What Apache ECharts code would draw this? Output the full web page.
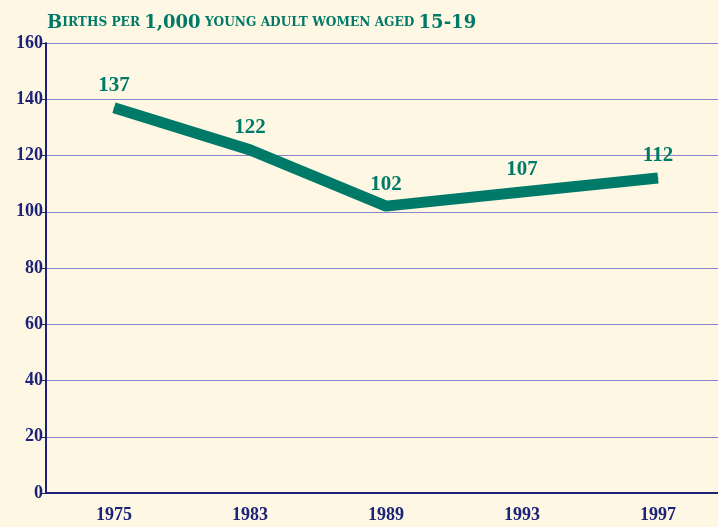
<!DOCTYPE html>
<html>
<head>
<meta charset="utf-8">
<script src="https://cdn.jsdelivr.net/npm/echarts@6/dist/echarts.min.js"></script>
<style>
  html, body { margin: 0; padding: 0; background: #fdf7e3; overflow: hidden; }
  /* a little wider than the window so the last band runs past the right edge */
  #chart { width: 726px; height: 527px; }
</style>
</head>
<body>
<div id="chart"></div>
<script>
const years = ["1975", "1983", "1989", "1993", "1997"];
const births = [137, 122, 102, 107, 112];

const navy = "#1b2278";
const green = "#007a68";
const serif = "'Liberation Serif', 'DejaVu Serif', serif";

const chart = echarts.init(document.querySelector("#chart"));
chart.setOption({
    backgroundColor: "#fdf7e3",
    animation: false,
    title: {
        left: 42,
        top: 9,
        text: "{b|B}{s|IRTHS PER }{b|1,000}{s| YOUNG ADULT WOMEN AGED }{b|15-19}",
        textStyle: {
            rich: {
                b: { fontFamily: "'DejaVu Serif'", fontWeight: "bold", fontSize: 18, color: green },
                s: { fontFamily: "'DejaVu Serif'", fontWeight: "bold", fontSize: 12.2, color: green }
            }
        }
    },
    grid: { left: 46, top: 43, right: 0, bottom: 34, containLabel: false },
    xAxis: {
        type: "category",
        data: years,
        boundaryGap: true,
        axisLine: { lineStyle: { color: navy, width: 2 } },
        axisTick: { alignWithLabel: true, length: 8, lineStyle: { color: navy, width: 2 } },
        axisLabel: { color: navy, fontFamily: serif, fontWeight: "bold", fontSize: 18, margin: 13 },
        splitLine: { show: false }
    },
    yAxis: {
        type: "value",
        min: 0,
        max: 160,
        interval: 20,
        axisLine: { show: true, lineStyle: { color: navy, width: 2 } },
        axisTick: { show: true, length: 5, lineStyle: { color: navy, width: 1 } },
        axisLabel: { color: navy, fontFamily: serif, fontWeight: "bold", fontSize: 18, margin: 3 },
        splitLine: { lineStyle: { color: "#8a84c8", width: 1 } }
    },
    series: [{
        type: "line",
        data: births,
        symbol: "circle",
        symbolSize: 1,
        itemStyle: { color: green },
        lineStyle: { color: green, width: 11 },
        label: {
            show: true,
            position: "top",
            distance: 11,
            color: green,
            fontFamily: serif,
            fontWeight: "bold",
            fontSize: 21
        }
    }]
});
</script>
</body>
</html>
